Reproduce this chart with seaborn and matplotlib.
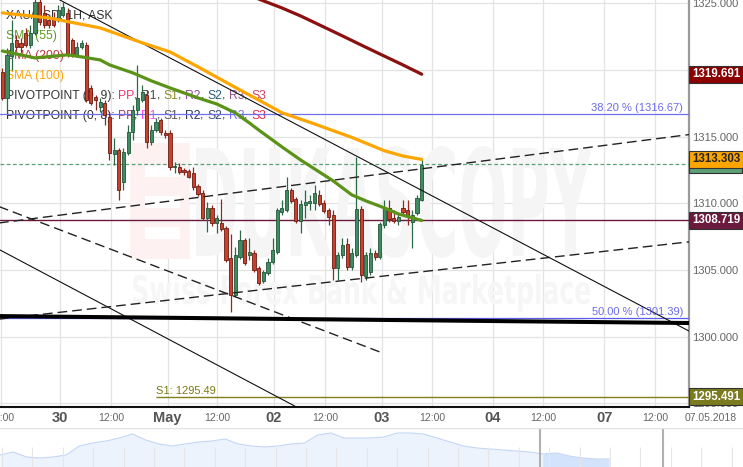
import numpy as np
import matplotlib
matplotlib.use("Agg")
import matplotlib.pyplot as plt
import matplotlib.transforms as mtransforms
import seaborn as sns
from matplotlib.textpath import TextPath
from matplotlib.patches import PathPatch, Rectangle
from matplotlib.font_manager import FontProperties

W, H = 743, 467

# XAU/USD 1H candles (one per hour)
opens = [1319.86, 1317.91, 1321.06, 1322.26, 1322.04, 1322.79, 1321.89, 1322.79, 1325.11, 1324.29,
         1323.76, 1323.91, 1323.76, 1324.14, 1324.29, 1322.26, 1321.14, 1321.74, 1321.89, 1318.66,
         1317.99, 1317.24, 1317.54, 1316.49, 1313.71, 1314.01, 1311.61, 1313.79, 1315.36, 1317.01,
         1317.76, 1318.14, 1314.61, 1315.51, 1316.26, 1315.29, 1315.29, 1312.74, 1312.74, 1312.51,
         1312.44, 1312.29, 1311.31, 1310.79, 1308.91, 1309.66, 1308.54, 1308.54, 1308.16, 1305.91,
         1303.14, 1305.99, 1307.26, 1306.14, 1306.29, 1305.16, 1304.19, 1304.79, 1305.61, 1306.36,
         1309.36, 1309.51, 1311.01, 1310.34, 1308.69, 1309.89, 1310.04, 1310.04, 1310.64, 1310.04,
         1309.51, 1309.14, 1305.16, 1306.14, 1306.96, 1305.24, 1306.14, 1309.59, 1304.56, 1304.86,
         1306.29, 1305.99, 1308.39, 1309.66, 1308.91, 1308.69, 1309.66, 1309.51, 1308.61, 1309.29,
         1310.26]
highs = [1320.16, 1321.66, 1323.76, 1322.64, 1322.41, 1323.16, 1323.39, 1325.64, 1325.64, 1324.89,
         1324.14, 1324.36, 1324.89, 1325.11, 1324.66, 1322.41, 1322.11, 1322.26, 1322.11, 1318.89,
         1318.14, 1317.91, 1317.76, 1316.86, 1314.91, 1314.16, 1314.16, 1315.89, 1317.39, 1320.39,
         1318.89, 1318.51, 1315.89, 1316.41, 1316.41, 1315.51, 1315.51, 1313.11, 1313.04, 1312.66,
         1312.59, 1312.74, 1311.46, 1311.01, 1310.11, 1309.89, 1309.14, 1310.34, 1308.31, 1307.71,
         1306.74, 1308.01, 1307.41, 1307.41, 1306.51, 1305.31, 1305.01, 1305.91, 1307.41, 1309.66,
         1310.26, 1311.99, 1311.16, 1310.49, 1310.26, 1311.01, 1310.64, 1311.39, 1311.01, 1310.26,
         1309.66, 1309.51, 1306.36, 1307.41, 1307.41, 1306.66, 1313.49, 1309.81, 1306.36, 1306.66,
         1306.51, 1308.61, 1310.26, 1310.26, 1309.51, 1309.29, 1310.26, 1310.26, 1309.51, 1310.64,
         1313.34]
lows = [1317.76, 1316.79, 1320.01, 1321.51, 1321.36, 1321.74, 1321.66, 1322.64, 1323.39, 1323.16,
        1323.16, 1323.24, 1323.61, 1323.99, 1320.99, 1320.99, 1320.99, 1321.59, 1317.61, 1317.39,
        1317.01, 1316.86, 1315.89, 1313.26, 1312.89, 1310.26, 1311.01, 1313.64, 1314.76, 1316.64,
        1317.61, 1314.16, 1314.39, 1315.36, 1315.14, 1314.91, 1312.51, 1312.29, 1312.21, 1312.14,
        1311.91, 1311.01, 1310.56, 1308.76, 1307.86, 1308.31, 1307.79, 1307.94, 1305.61, 1301.86,
        1302.99, 1305.84, 1305.39, 1305.76, 1304.86, 1303.89, 1304.04, 1304.64, 1305.46, 1306.21,
        1309.14, 1309.36, 1310.04, 1308.54, 1307.79, 1308.91, 1309.51, 1309.51, 1309.81, 1309.29,
        1308.39, 1304.26, 1304.26, 1305.91, 1305.01, 1305.01, 1305.99, 1304.11, 1304.26, 1304.64,
        1305.76, 1305.84, 1308.16, 1308.61, 1308.54, 1308.39, 1309.14, 1308.39, 1306.66, 1309.14,
        1310.19]
closes = [1317.91, 1321.14, 1322.04, 1321.74, 1321.74, 1321.89, 1322.79, 1325.11, 1323.61, 1323.39,
          1323.39, 1323.39, 1324.51, 1324.74, 1321.14, 1321.14, 1321.74, 1322.04, 1317.76, 1317.54,
          1317.76, 1317.61, 1316.64, 1313.79, 1314.01, 1311.01, 1313.86, 1315.36, 1317.01, 1317.91,
          1318.36, 1314.61, 1315.51, 1316.11, 1315.36, 1315.14, 1312.74, 1312.81, 1312.36, 1312.36,
          1311.99, 1311.24, 1310.71, 1308.91, 1309.66, 1308.54, 1308.91, 1308.09, 1305.76, 1303.14,
          1306.14, 1307.26, 1305.54, 1306.36, 1305.01, 1304.04, 1304.86, 1305.61, 1306.51, 1309.51,
          1309.66, 1311.01, 1310.19, 1308.69, 1309.96, 1310.11, 1310.19, 1310.79, 1309.96, 1309.44,
          1308.99, 1305.16, 1306.14, 1306.89, 1305.24, 1306.29, 1309.59, 1304.64, 1306.14, 1306.29,
          1305.99, 1308.46, 1309.74, 1308.84, 1308.69, 1308.99, 1309.36, 1309.06, 1309.14, 1310.41,
          1312.89]

# moving averages (candle index, price)
sma55_idx = [0, 7, 14, 17, 21, 23, 28, 32, 36, 42, 46, 50, 53, 55, 60, 64, 71, 75, 78, 82, 85, 90]
sma55_val = [1321.43, 1320.91, 1321.14, 1320.99, 1320.76, 1320.39, 1319.79, 1319.19, 1318.66, 1317.91,
             1317.46, 1316.79, 1316.04, 1315.51, 1314.24, 1313.26, 1311.69, 1310.64, 1310.19, 1309.66,
             1309.21, 1308.72]
sma100_idx = [0, 10, 21, 30, 36, 42, 50, 55, 60, 67, 75, 82, 86, 90]
sma100_val = [1324.29, 1323.91, 1323.16, 1322.05, 1321.36, 1320.24, 1318.70, 1317.76, 1316.80, 1315.96,
              1314.95, 1313.95, 1313.55, 1313.30]
sma200_idx = [55, 60, 64, 69, 73, 77, 81, 86, 90]
sma200_val = [1325.33, 1324.66, 1324.06, 1323.23, 1322.56, 1321.88, 1321.21, 1320.38, 1319.69]

# drawn trend lines (candle index, price)
trend_a_idx, trend_a_val = [10, 150], [1325.69, 1299.94]
trend_b_idx, trend_b_val = [-1, 70], [1306.60, 1293.46]
chan_up_idx, chan_up_val = [-1, 150], [1308.52, 1315.28]
chan_lo_idx, chan_lo_val = [-1, 150], [1301.31, 1307.22]
chan_dn_idx, chan_dn_val = [-1, 81], [1309.80, 1298.86]
thick_idx, thick_val = [-1, 150], [1301.55, 1301.02]

fib382 = 1316.67
fib500 = 1301.39
last_price = 1312.932
sma100_last = 1313.303
sma200_last = 1319.691
pp_level = 1308.719
s1_level = 1295.491
s1_start = 33

price_ticks = [1295, 1300, 1305, 1310, 1315, 1320, 1325]
time_pos = [-0.3, 12.4, 23.3, 35.5, 46.1, 58.2, 69.2, 81.4, 92.2, 105.2, 116.1, 129.2, 140.1]
time_labels = ['12:00', '30', '12:00', 'May', '12:00', '02', '12:00', '03', '12:00', '04', '12:00', '07', '12:00']

# navigator overview (height of the mini chart)
nav_levels = [12, 15, 10, 9, 10, 12, 21, 24, 26, 29, 33, 27, 23, 21, 23, 25, 26, 28, 23, 21,
              20, 21, 23, 24, 32, 34, 29, 29, 29, 30, 34, 34, 33, 29, 25, 21, 19, 18, 17, 16,
              15, 13, 14, 11, 9, 8, 8]

sns.set_style("white")
plt.rcParams['font.family'] = ['Liberation Sans', 'DejaVu Sans']

fig = plt.figure(figsize=(W / 100, H / 100), dpi=100)
ax = fig.add_axes([0, 60 / H, 689 / W, 407 / H])


def px_trans():
    # pixel coords, origin top-left
    return mtransforms.Affine2D().scale(1 / W, -1 / H).translate(0, 1) + fig.transFigure


def fitted_text(s, x0, y0, x1, y1, color, z=0.8):
    tp = TextPath((0, 0), s, size=10, prop=FontProperties(family='DejaVu Sans', weight='bold'))
    ext = tp.get_extents()
    sx = (x1 - x0) / ext.width
    sy = (y1 - y0) / ext.height
    tr = mtransforms.Affine2D().translate(-ext.x0, -ext.y0).scale(sx, -sy).translate(x0, y1) + px_trans()
    ax.add_patch(PathPatch(tp, transform=tr, fc=color, ec='none', zorder=z, clip_on=False))


# watermark
ax.add_patch(Rectangle((130, 143), 60, 116, transform=px_trans(), fc='#fdf1f1', ec='none', zorder=0.8))
for yy in (165, 196, 227):
    ax.add_patch(Rectangle((145, yy), 35, 12, transform=px_trans(), fc='white', ec='none', zorder=0.85))
fitted_text("DUKASCOPY", 196, 146, 592, 258, '#f5f5f5')
fitted_text("Swiss Forex Bank & Marketplace", 133, 274, 590, 312, '#f6f6f6')

# grid
ax.set_xticks(time_pos)
ax.set_yticks(price_ticks)
ax.grid(True, color='#e3e3e3', lw=0.9)
ax.set_axisbelow(True)
ax.yaxis.tick_right()
ax.set_yticklabels([f'{v:.3f}' for v in price_ticks])
ax.tick_params(axis='y', length=0, pad=2.5, labelsize=8, labelcolor='#666666')
ax.tick_params(axis='x', length=0, labelbottom=False)
for side in ('top', 'left'):
    ax.spines[side].set_visible(False)
ax.spines['right'].set_color('#9a9a9a')
ax.spines['right'].set_linewidth(1.6)
ax.spines['bottom'].set_color('#111111')
ax.spines['bottom'].set_linewidth(1.5)

# horizontal levels
ax.axhline(fib382, color='#6f6ff0', lw=0.9, zorder=2.6)
ax.axhline(last_price, color='#5aa176', lw=0.9, ls=(0, (3, 2)), zorder=2.6)
ax.axhline(pp_level, color='#6b1a3d', lw=1.0, zorder=2.6)
ax.axhline(fib500, color='#5b5bf0', lw=0.9, zorder=2.6)
ax.hlines(s1_level, s1_start, 150, color='#80801a', lw=1.0, zorder=2.6)

# candles
idx = np.arange(len(opens))
o, h, l, c = (np.array(a) for a in (opens, highs, lows, closes))
up = c >= o
body_lo = np.minimum(o, c)
body_h = np.maximum(np.abs(c - o), 0.06)
ax.vlines(idx[up], l[up], h[up], color='#2c6a45', lw=0.9, zorder=3)
ax.vlines(idx[~up], l[~up], h[~up], color='#8e2a1f', lw=0.9, zorder=3)
ax.bar(idx[up], body_h[up], bottom=body_lo[up], width=0.68, color='#3f8c60',
       edgecolor='#24553a', lw=0.6, zorder=3.5)
ax.bar(idx[~up], body_h[~up], bottom=body_lo[~up], width=0.68, color='#c9402c',
       edgecolor='#6a1c12', lw=0.6, zorder=3.5)

# trend lines
ax.plot(trend_a_idx, trend_a_val, color='#111111', lw=0.8, zorder=4)
ax.plot(trend_b_idx, trend_b_val, color='#111111', lw=0.8, zorder=4)
for xs, ys in ((chan_up_idx, chan_up_val), (chan_lo_idx, chan_lo_val), (chan_dn_idx, chan_dn_val)):
    ax.plot(xs, ys, color='#222222', lw=1.0, ls=(0, (7, 3.6)), zorder=4)
ax.plot(thick_idx, thick_val, color='black', lw=2.9, zorder=4)

# SMAs
sns.lineplot(x=sma200_idx, y=sma200_val, ax=ax, color='#8b1010', lw=2.3, zorder=5)
sns.lineplot(x=sma100_idx, y=sma100_val, ax=ax, color='#ffa500', lw=2.3, zorder=5)
sns.lineplot(x=sma55_idx, y=sma55_val, ax=ax, color='#5b9318', lw=2.3, zorder=5)

ax.set_xlim(-0.494, 147.36)
ax.set_ylim(1294.73, 1325.255)

# level captions
ax.text(683 / 689, fib382 + 0.08, '38.20 % (1316.67)', transform=ax.get_yaxis_transform(),
        ha='right', va='bottom', fontsize=8, color='#6b6bee', zorder=6)
ax.text(683 / 689, fib500 + 0.08, '50.00 % (1301.39)', transform=ax.get_yaxis_transform(),
        ha='right', va='bottom', fontsize=8, color='#6b6bee', zorder=6)
ax.text(s1_start, s1_level + 0.08, 'S1: 1295.49', ha='left', va='bottom', fontsize=8,
        color='#7a7a10', zorder=6)


def price_box(price, text, fc, tc='white'):
    ax.text(1.004, price, text, transform=ax.get_yaxis_transform(), ha='left', va='center',
            fontsize=8.3, fontweight='bold', color=tc, zorder=7, clip_on=False,
            bbox=dict(boxstyle='square,pad=0.22', fc=fc, ec='#333333', lw=0.8))


price_box(sma200_last, '1319.691', '#8b0000')
price_box(last_price, '1312.932', '#5e9e78')
price_box(sma100_last, '1313.303', '#ffa500', tc='#222222')
price_box(pp_level, '1308.719', '#6b1a3d')
price_box(s1_level, '1295.491', '#7a7a1e')

# time labels
for pos, lab in zip(time_pos, time_labels):
    day = lab != '12:00'
    ax.text(pos, -11 / 407, lab, transform=ax.get_xaxis_transform(), ha='center', va='center',
            fontsize=10.5 if day else 7.5, fontweight='bold' if day else 'normal',
            color='#555555' if day else '#666666', clip_on=False)
fig.text(711 / W, 1 - 418 / H, '07.05.2018', ha='center', va='center', fontsize=7.5, color='#666666')


# legend block, top left
def rainbow(x_px, y_px, pieces, size=8.7):
    t = ax.text(x_px / W, 1 - y_px / H, pieces[0][0], color=pieces[0][1], transform=fig.transFigure,
                fontsize=size, ha='left', va='center', zorder=2)
    for s, col in pieces[1:]:
        t = ax.annotate(s, xy=(1, 0), xycoords=t, va='bottom', ha='left', color=col,
                        fontsize=size, zorder=2)


rainbow(6, 15, [('XAU/USD, 1H, ASK', '#333333')])
rainbow(6, 36, [('SMA (55)', '#5c9a1c')])
rainbow(6, 56, [('SMA (200)', '#b5383a')])
rainbow(6, 76, [('SMA (100)', '#ffa500')])
sep = '#333333'
rainbow(6, 96, [('PIVOTPOINT (0, 9): ', sep), ('PP', '#f0336f'), (', ', sep), ('R1', '#4a4a4a'),
                (', ', sep), ('S1', '#8c8c2a'), (', ', sep), ('R2', '#8e4e9e'), (', ', sep),
                ('S2', '#2f5f7f'), (', ', sep), ('R3', '#8e4e8e'), (', ', sep), ('S3', '#d04060')])
rainbow(6, 116, [('PIVOTPOINT (0, 8): ', sep), ('PP', '#b03a5a'), (', ', sep), ('R1', '#ff44ff'),
                 (', ', sep), ('S1', '#555555'), (', ', sep), ('R2', '#2a3a5a'), (', ', sep),
                 ('S2', '#3a5070'), (', ', sep), ('R3', '#7a6aff'), (', ', sep), ('S3', '#e03050')])

# navigator strip
nav = fig.add_axes([0, 0, 1, 39 / H])
nav_x = np.arange(len(nav_levels))
span = (len(nav_levels) - 1) * W / 609
nav.fill_between(nav_x, 0, nav_levels, color='#edf3fd', lw=0)
sns.lineplot(x=nav_x, y=nav_levels, ax=nav, color='#c3d6f5', lw=0.8)
sel = nav_x >= (540 / 609) * (len(nav_levels) - 1) - 0.5
nav.fill_between(nav_x[sel], 0, np.array(nav_levels)[sel], color='#d3e3fb', lw=0)
nav.vlines(np.arange(2, W, 30.4) * span / W, 0, 20, color='#e6e6e6', lw=0.8)
nav.vlines([540 * span / W, 663 * span / W], 0, 39, color='#b0b0b0', lw=1.5)
nav.axhline(39, color='#e2e2e2', lw=1.0)
nav.set_xlim(0, span)
nav.set_ylim(0, 39)
nav.axis('off')

fig.savefig('out.png', dpi=100)
